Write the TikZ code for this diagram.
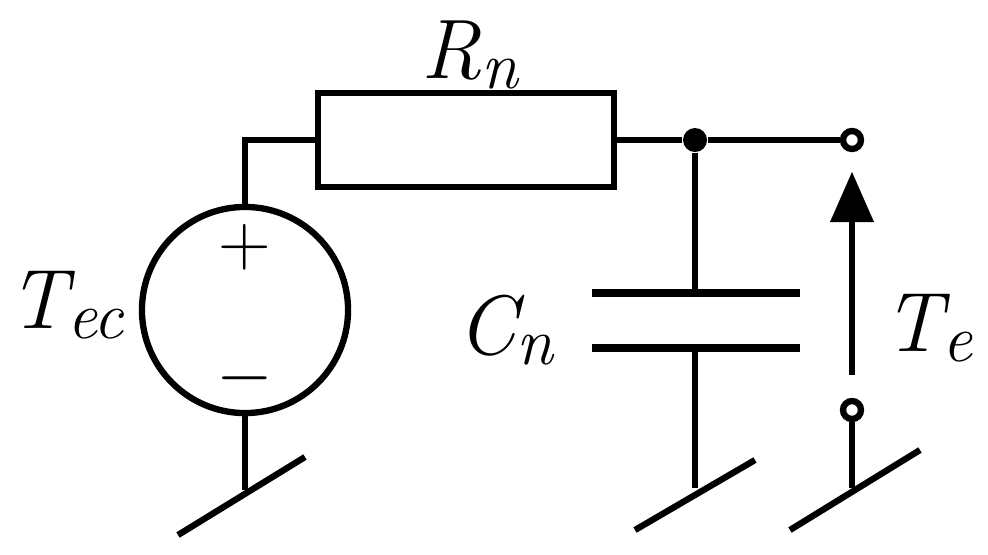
\documentclass[tikz,border=0pt]{standalone}
\newcommand{\lw}[1]{\raisebox{-0.12em}{\fontsize{19}{19}\selectfont #1}}
\begin{document}
\begin{tikzpicture}[x=0.01cm,y=-0.01cm,
  w/.style={line width=1.8pt},
  lab/.style={font=\fontsize{24}{24}\selectfont\itshape},
  sg/.style={font=\fontsize{22}{22}\selectfont}]
\useasboundingbox (0,0) rectangle (988,554);
\node[w,draw,circle,inner sep=0,minimum size=2.06cm] (src) at (245,310) {};
\node[w,draw,rectangle,minimum width=2.96cm,minimum height=0.94cm,inner sep=0] (res) at (466,140) {};
\coordinate (c1) at (245,140);
\draw[w] (src.north) -- (c1) -- (res.west);
\node[circle,fill,inner sep=0,minimum size=0.24cm] (j) at (695,140) {};
\node[w,draw,circle,fill=white,inner sep=0,minimum size=0.18cm] (t1) at (852,140) {};
\draw[w] (res.east) -- (j) -- (t1);
\coordinate (p1) at (695,293);
\coordinate (p2) at (695,348);
\draw[w] (j) -- (p1);
\draw[line width=2.3pt] (592,293) -- (800,293);
\draw[line width=2.3pt] (592,348) -- (800,348);
\coordinate (g2) at (695,488);
\draw[w] (p2) -- (g2);
\draw[w] (635,530) -- (755,460);
\coordinate (g1) at (245,490);
\draw[w] (src.south) -- (g1);
\draw[w] (178,535) -- (305,457);
\node[w,draw,circle,fill=white,inner sep=0,minimum size=0.18cm] (t2) at (852,410) {};
\coordinate (g3) at (852,488);
\draw[w] (t2) -- (g3);
\draw[w] (790,530) -- (920,450);
\coordinate (a1) at (852,375);
\coordinate (a2) at (852,220);
\draw[w] (a1) -- (a2);
\fill (830,222) -- (874,222) -- (852,172) -- cycle;
\node[sg] (plus) at (245,247) {$+$};
\node[sg] (minus) at (245,378) {$-$};
\node[lab] (rn) at (470,55) {R\lw{n}};
\node[lab] (tec) at (66,305) {T\lw{ec}};
\node[lab] (cn) at (505,330) {C\lw{n}};
\node[lab] (te) at (928,328) {T\lw{e}};
\end{tikzpicture}
\end{document}
